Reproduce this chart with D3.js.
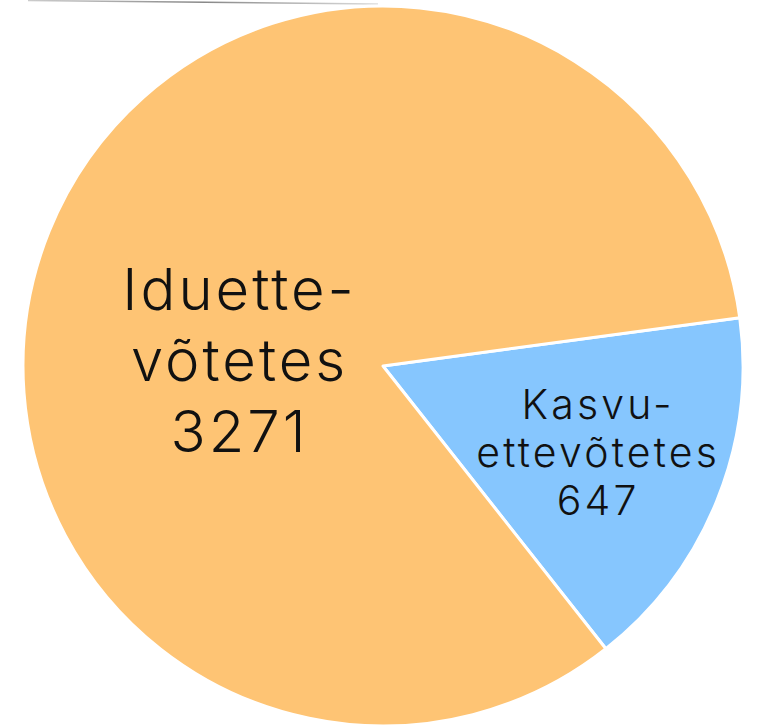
<!DOCTYPE html>
<html>
<head>
<meta charset="utf-8">
<script src="https://cdn.jsdelivr.net/npm/d3@7"></script>
<style>
  body { margin: 0; background: #fff; }
  svg { display: block; }
</style>
</head>
<body>
<script>
var width = 757;
var height = 726;

// data
var categories = ['Kasvuettevõtetes', 'Iduettevõtetes'];
var values = [647, 3271];
var labelLines = [['Kasvu-', 'ettevõtetes', '647'], ['Iduette-', 'võtetes', '3271']];
var colors = ['#86c6fe', '#fec474'];

var cx = 383, cy = 366, radius = 360;

var svg = d3.select('body').append('svg')
  .attr('width', width)
  .attr('height', height);

// faint leader line at the top edge
var grad = svg.append('defs').append('linearGradient')
  .attr('id', 'lead')
  .attr('x1', '0%').attr('x2', '100%');
grad.append('stop').attr('offset', '0%').attr('stop-color', '#ccc');
grad.append('stop').attr('offset', '50%').attr('stop-color', '#888');
grad.append('stop').attr('offset', '100%').attr('stop-color', '#ddd');
svg.append('line')
  .attr('x1', 28).attr('y1', 0.5)
  .attr('x2', 378).attr('y2', 4)
  .attr('stroke', 'url(#lead)')
  .attr('stroke-width', 1.5);

var start = 82.3 * Math.PI / 180;
var pie = d3.pie().sort(null)
  .startAngle(start)
  .endAngle(start + 2 * Math.PI);

var arc = d3.arc().innerRadius(0).outerRadius(radius);

var g = svg.append('g').attr('transform', 'translate(' + cx + ',' + cy + ')');

var slices = pie(values);

g.selectAll('path').data(slices)
  .enter().append('path')
  .attr('d', arc)
  .attr('fill', function(d, i){ return colors[i]; })
  .attr('stroke', '#fff')
  .attr('stroke-width', 3)
  .attr('stroke-linejoin', 'round');

// label placement (polar, relative to the centre)
var labelPos = [
  {r: 0.64 * radius, ang: null, size: 41, lh: 48, ls: 3.2},
  {r: 145, ang: 272, size: 58, lh: 71, ls: 3}
];

slices.forEach(function(d, i){
  var p = labelPos[i];
  var a = p.ang === null ? (d.startAngle + d.endAngle) / 2 : p.ang * Math.PI / 180;
  var x = Math.sin(a) * p.r + p.ls / 2;
  var y = -Math.cos(a) * p.r;
  var lines = labelLines[i];
  var t = g.append('text')
    .attr('text-anchor', 'middle')
    .attr('font-family', 'Inter, sans-serif')
    .attr('font-weight', 300)
    .attr('font-size', p.size + 'px')
    .attr('letter-spacing', p.ls)
    .attr('fill', '#111');
  lines.forEach(function(line, j){
    t.append('tspan')
      .attr('x', x)
      .attr('y', y + (j - (lines.length - 1) / 2) * p.lh)
      .attr('dy', '0.35em')
      .text(line);
  });
});
</script>
</body>
</html>
